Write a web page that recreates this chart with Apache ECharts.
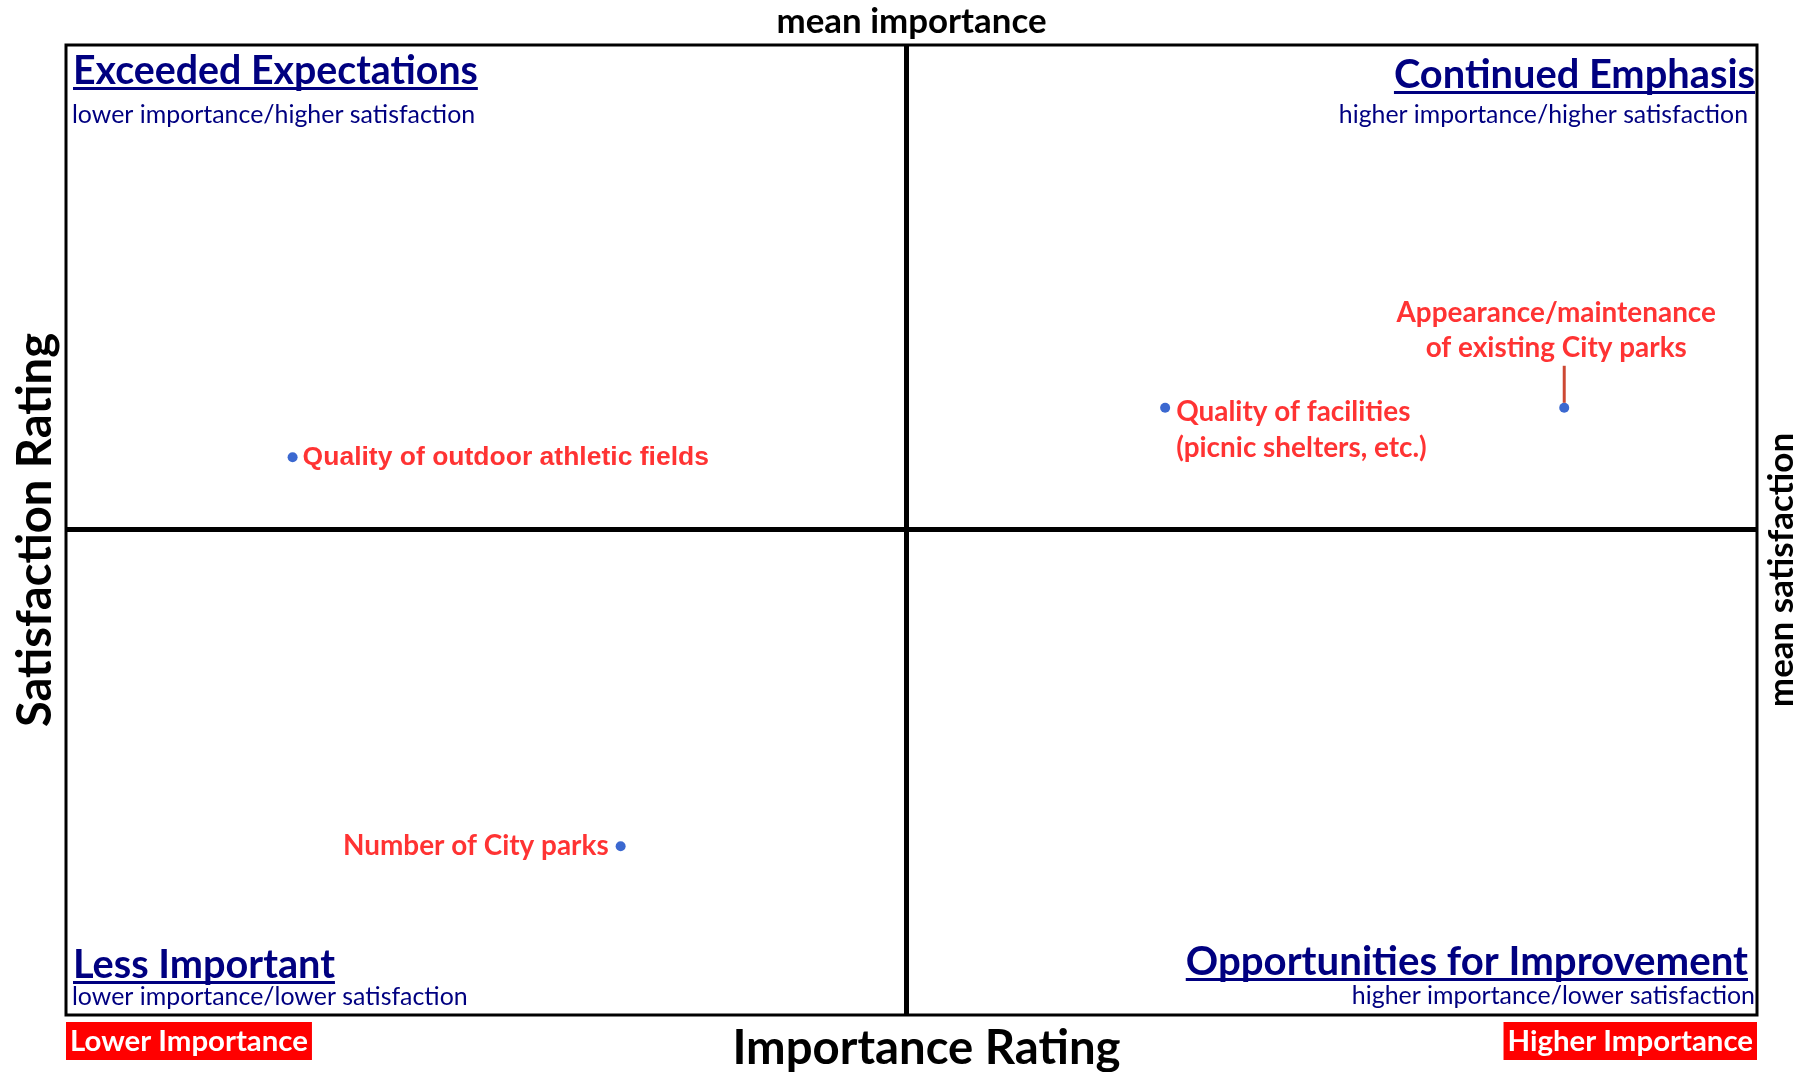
<!DOCTYPE html>
<html>
<head>
<meta charset="utf-8">
<script src="https://cdn.jsdelivr.net/npm/echarts@6/dist/echarts.min.js"></script>
<style>html,body{margin:0;padding:0;background:#fff}#c{width:1809px;height:1072px}</style>
</head>
<body>
<div id="c"></div>
<script>
// ---------------- data ----------------
const itemNames = [
  'Quality of outdoor athletic fields',
  'Number of City parks',
  'Quality of facilities\n(picnic shelters, etc.)',
  'Appearance/maintenance\nof existing City parks'
];
const importance = [13.4, 32.8, 65.0, 88.6];
const satisfaction = [57.5, 17.4, 62.6, 62.6];
const meanImportance = 49.7;
const meanSatisfaction = 50.05;
const importanceRange = [0, 100];
const satisfactionRange = [0, 100];
const endLabels = ['Lower Importance', 'Higher Importance'];
const quadrantTitles = ['Exceeded Expectations', 'Continued Emphasis', 'Less Important', 'Opportunities for Improvement'];
const quadrantSubtitles = ['lower importance/higher satisfaction', 'higher importance/higher satisfaction', 'lower importance/lower satisfaction', 'higher importance/lower satisfaction'];
const axisTitles = { x: 'Importance Rating', y: 'Satisfaction Rating', meanX: 'mean importance', meanY: 'mean satisfaction' };

// ---------------- styles ----------------
const FONT = 'Lato';
const ARIAL = '"Liberation Sans"';
const NAVY = '#000080';
const RED = '#ff0000';
const DOT = '#0a42c4';
const LEADER = '#c01a00';
const ctx2d = document.createElement('canvas').getContext('2d');
function textWidth(text, weight, size, family) {
  ctx2d.font = weight + ' ' + size + 'px ' + family;
  return Math.max.apply(null, String(text).split('\n').map(s => ctx2d.measureText(s).width));
}
function fit(text, weight, family, target) {
  return +(100 * target / textWidth(text, weight, 100, family)).toFixed(1);
}

const G = { left: 66, top: 45, right: 52, bottom: 57 };

// label placement per point (style only)
const pointLabelStyle = [
  { position: 'right', distance: 5, family: ARIAL, target: 407 },
  { position: 'left', distance: 7, family: FONT, target: 257 },
  { position: 'right', distance: 6, family: FONT, target: 251, offset: [0, 22], lineHeight: 36 },
  { position: 'top', distance: 0, family: FONT, target: 320, offset: [-8, 0], lineHeight: 35, leader: 37 }
];
const ptFs = fit(itemNames[2], 'bold', FONT, 251);

const seriesData = itemNames.map((n, i) => {
  const s = pointLabelStyle[i];
  const fs = s.family === ARIAL ? fit(n, 'bold', ARIAL, s.target) : ptFs;
  const lh = s.lineHeight || Math.round(fs * 1.2);
  const label = {
    show: true, position: s.position, distance: s.distance,
    formatter: '{b}', color: RED, fontWeight: 'bold', fontFamily: s.family, fontSize: fs,
    lineHeight: lh,
    offset: s.offset || [0, 0]
  };
  if (s.position === 'top') label.align = 'center';
  if (s.leader) {
    // text lines followed by a thin vertical leader bar, centred on the point
    const lines = n.split('\n').map(t => '{t|' + t + '}');
    label.formatter = lines.join('\n') + '\n{sp|}{bar|}';
    label.rich = {
      t: { color: RED, fontWeight: 'bold', fontFamily: s.family, fontSize: fs, lineHeight: lh },
      sp: { width: -2 * s.offset[0], height: s.leader, lineHeight: s.leader },
      bar: { width: 3, height: s.leader, lineHeight: s.leader, backgroundColor: LEADER }
    };
  }
  return { name: n, value: [importance[i], satisfaction[i]], label: label };
});

// quadrant annotations layout
const quadLayout = [
  { side: 'left', x: 73, base: 83, w: 405, subX: 72, subBase: 122, subW: 403 },
  { side: 'right', x: 1755, base: 87, w: 361, subX: 1748, subBase: 122, subW: 410 },
  { side: 'left', x: 73, base: 977, w: 262, subX: 72, subBase: 1004, subW: 396 },
  { side: 'right', x: 1748, base: 974, w: 562, subX: 1755, subBase: 1003, subW: 403 }
];
const graphics = [];
quadrantTitles.forEach((t, i) => {
  const L = quadLayout[i];
  const fs = fit(t, 'bold', FONT, L.w);
  const tw = textWidth(t, 'bold', fs, FONT);
  graphics.push({
    type: 'text', x: L.x, y: L.base - 0.3 * fs, silent: true,
    style: { text: t, fill: NAVY, font: 'bold ' + fs + 'px ' + FONT, align: L.side, textAlign: L.side, verticalAlign: 'middle', textVerticalAlign: 'middle' }
  });
  graphics.push({
    type: 'rect', silent: true,
    shape: { x: L.side === 'left' ? L.x : L.x - tw, y: L.base + 4, width: tw, height: 3 },
    style: { fill: NAVY }
  });
  const st = quadrantSubtitles[i];
  const sfs = fit(st, 'normal', FONT, L.subW);
  graphics.push({
    type: 'text', x: L.subX, y: L.subBase - 0.3 * sfs, silent: true,
    style: { text: st, fill: NAVY, font: 'normal ' + sfs + 'px ' + FONT, align: L.side, textAlign: L.side, verticalAlign: 'middle', textVerticalAlign: 'middle' }
  });
});

const bigFs = fit(axisTitles.x, 'bold', FONT, 388);
const meanFs = fit(axisTitles.meanX, 'bold', FONT, 270);
const endFs = fit(endLabels[0], 'bold', FONT, 238);

const hiddenAxisParts = {
  axisLine: { show: false }, axisTick: { show: false }, splitLine: { show: false }, nameMoveOverlap: false
};

const option = {
  animation: false,
  backgroundColor: '#fff',
  grid: {
    left: G.left, top: G.top, right: G.right, bottom: G.bottom,
    outerBoundsMode: 'none', containLabel: false,
    show: true, borderColor: '#000', borderWidth: 3, backgroundColor: 'transparent'
  },
  xAxis: [
    Object.assign({
      type: 'value', position: 'bottom', min: importanceRange[0], max: importanceRange[1], interval: importanceRange[1] - importanceRange[0],
      name: axisTitles.x, nameLocation: 'middle', nameGap: 10,
      nameTextStyle: { color: '#000', fontWeight: 'bold', fontFamily: FONT, fontSize: bigFs, padding: [0, 0, 0, 30] },
      axisLabel: {
        show: true, margin: 7, color: '#fff', fontWeight: 'bold', fontFamily: FONT, fontSize: endFs,
        backgroundColor: RED, padding: [5, 4, 4, 4],
        formatter: v => v === importanceRange[0] ? endLabels[0] : endLabels[1],
        alignMinLabel: 'left', alignMaxLabel: 'right', showMinLabel: true, showMaxLabel: true, hideOverlap: false
      }
    }, hiddenAxisParts),
    Object.assign({
      type: 'value', position: 'top', min: importanceRange[0], max: importanceRange[1],
      name: axisTitles.meanX, nameLocation: 'middle', nameGap: 6,
      nameTextStyle: { color: '#000', fontWeight: 'bold', fontFamily: FONT, fontSize: meanFs },
      axisLabel: { show: false }
    }, hiddenAxisParts)
  ],
  yAxis: [
    Object.assign({
      type: 'value', position: 'left', min: satisfactionRange[0], max: satisfactionRange[1],
      name: axisTitles.y, nameLocation: 'middle', nameGap: 7,
      nameTextStyle: { color: '#000', fontWeight: 'bold', fontFamily: FONT, fontSize: fit(axisTitles.y, 'bold', FONT, 394) },
      axisLabel: { show: false }
    }, hiddenAxisParts),
    Object.assign({
      type: 'value', position: 'right', min: satisfactionRange[0], max: satisfactionRange[1],
      name: axisTitles.meanY, nameLocation: 'middle', nameGap: 7,
      nameTextStyle: { color: '#000', fontWeight: 'bold', fontFamily: FONT, fontSize: fit(axisTitles.meanY, 'bold', FONT, 274), padding: [0, 80, 0, 0] },
      axisLabel: { show: false }
    }, hiddenAxisParts)
  ],
  series: [{
    type: 'scatter',
    xAxisIndex: 0, yAxisIndex: 0,
    symbol: 'circle', symbolSize: 10,
    itemStyle: { color: DOT },
    data: seriesData,
    markLine: {
      silent: true, symbol: ['none', 'none'], label: { show: false },
      lineStyle: { color: '#000', width: 5, type: 'solid' },
      emphasis: { disabled: true },
      data: [{ xAxis: meanImportance }, { yAxis: meanSatisfaction }]
    },
    z: 5
  }],
  graphic: graphics
};

const chart = echarts.init(document.getElementById('c'), null, { renderer: 'canvas' });
chart.setOption(option);
</script>
</body>
</html>
